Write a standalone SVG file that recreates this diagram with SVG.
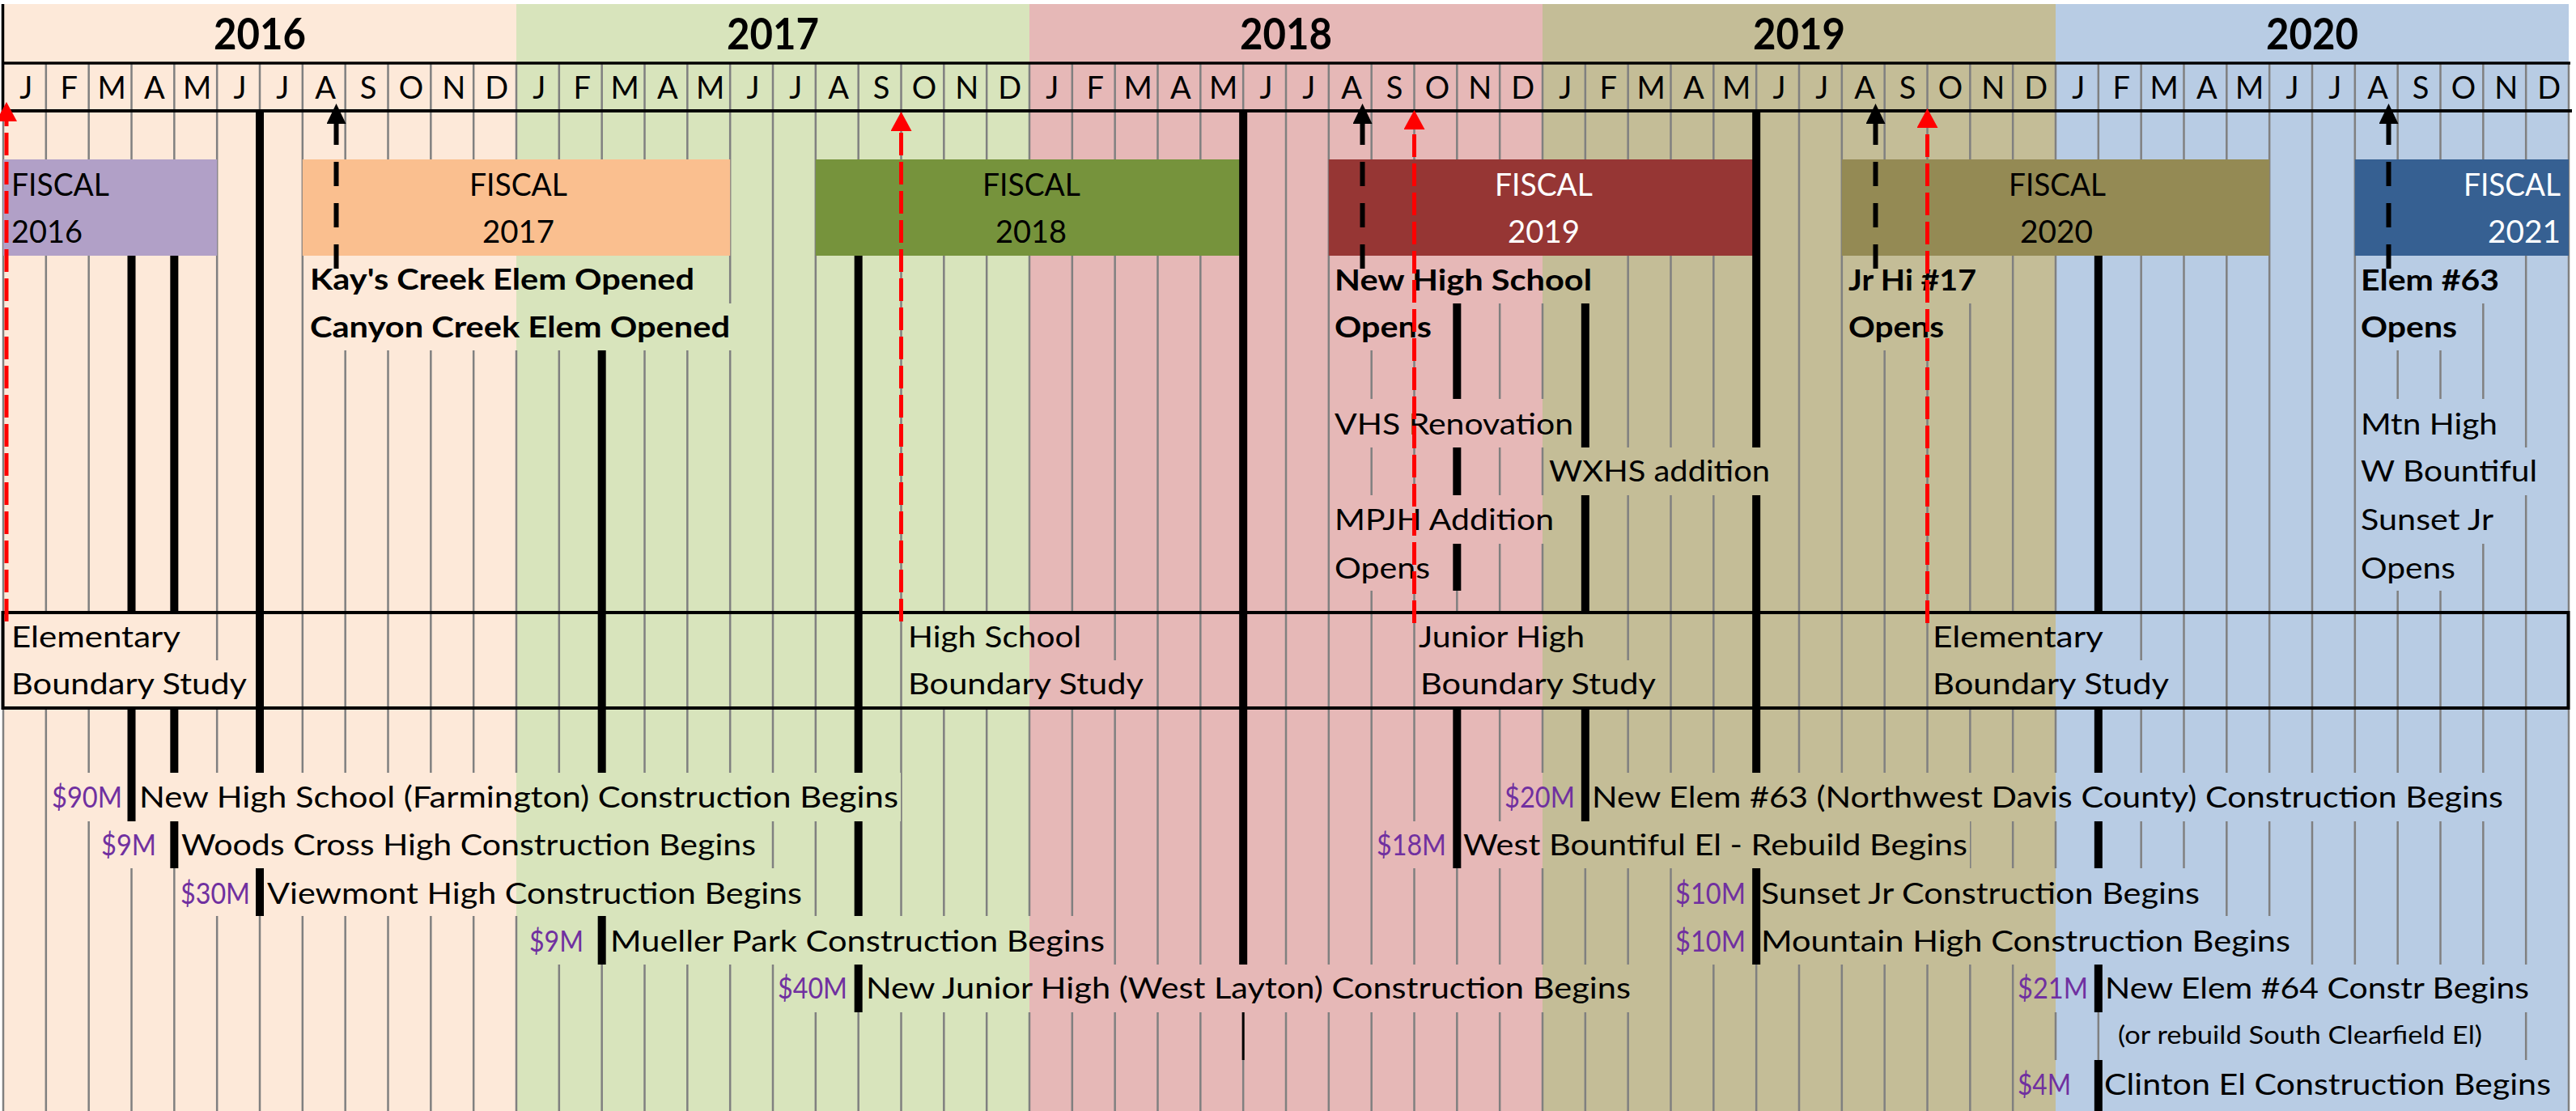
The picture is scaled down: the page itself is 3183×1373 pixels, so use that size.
<svg xmlns="http://www.w3.org/2000/svg" width="3183" height="1373" viewBox="0 0 3183 1373">
<style>
.t{font-family:Lato,'Liberation Sans',sans-serif;font-size:37px;fill:#000}
.b{font-weight:700}
.m{font-size:38px;text-anchor:middle}
.y{font-size:53px;font-weight:700}
.f{font-size:38px}
.w{fill:#fff}
.p{fill:#7030A0}
.s{font-size:31px}
.grid{stroke:#808080;stroke-width:2.5;fill:none}
.bar{stroke:#000;stroke-width:10;fill:none}
.ln{stroke:#000;fill:none}
.arB{stroke:#000;stroke-width:6;stroke-dasharray:30 21;fill:none}
.arR{stroke:#FF0000;stroke-width:5;stroke-dasharray:28 8;fill:none}
</style>
<defs>
<marker id="headB" markerUnits="userSpaceOnUse" markerWidth="25" markerHeight="24" viewBox="0 0 25 24" refX="0" refY="12" orient="auto"><path d="M0,0 L25,12 L0,24 z" fill="#000"/></marker>
<marker id="headR" markerUnits="userSpaceOnUse" markerWidth="24" markerHeight="26" viewBox="0 0 24 26" refX="0" refY="13" orient="auto"><path d="M0,0 L24,13 L0,26 z" fill="#FF0000"/></marker>
<mask id="textgaps" maskUnits="userSpaceOnUse" x="0" y="0" width="3183" height="1373">
<rect x="0" y="0" width="3183" height="1373" fill="#fff"/>
<g fill="#000">
<rect x="380" y="316" width="481" height="59"/>
<rect x="380" y="375" width="525" height="58"/>
<rect x="1646" y="316" width="324" height="59"/>
<rect x="1646" y="375" width="126" height="58"/>
<rect x="2281" y="316" width="165" height="59"/>
<rect x="2281" y="375" width="124" height="58"/>
<rect x="2914" y="316" width="177" height="59"/>
<rect x="2914" y="375" width="125" height="58"/>
<rect x="1646" y="493" width="301" height="60"/>
<rect x="1911" y="553" width="279" height="59"/>
<rect x="1646" y="612" width="277" height="60"/>
<rect x="1646" y="672" width="124" height="58"/>
<rect x="2914" y="493" width="175" height="60"/>
<rect x="2914" y="553" width="224" height="59"/>
<rect x="2914" y="612" width="170" height="60"/>
<rect x="2914" y="672" width="123" height="58"/>
<rect x="11" y="757" width="215" height="59"/>
<rect x="11" y="816" width="297" height="59"/>
<rect x="1119" y="757" width="220" height="59"/>
<rect x="1119" y="816" width="297" height="59"/>
<rect x="1750" y="757" width="211" height="59"/>
<rect x="1750" y="816" width="299" height="59"/>
<rect x="2385" y="757" width="217" height="59"/>
<rect x="2385" y="816" width="298" height="59"/>
<rect x="61" y="955" width="93" height="60"/>
<rect x="169" y="955" width="944" height="60"/>
<rect x="1856" y="955" width="93" height="60"/>
<rect x="1964" y="955" width="1132" height="60"/>
<rect x="122" y="1015" width="74" height="58"/>
<rect x="221" y="1015" width="716" height="58"/>
<rect x="1698" y="1015" width="92" height="58"/>
<rect x="1805" y="1015" width="629" height="58"/>
<rect x="220" y="1073" width="92" height="59"/>
<rect x="327" y="1073" width="667" height="59"/>
<rect x="2067" y="1073" width="93" height="59"/>
<rect x="2173" y="1073" width="548" height="59"/>
<rect x="651" y="1132" width="72" height="60"/>
<rect x="751" y="1132" width="617" height="60"/>
<rect x="2067" y="1132" width="93" height="60"/>
<rect x="2173" y="1132" width="660" height="60"/>
<rect x="958" y="1192" width="92" height="59"/>
<rect x="1067" y="1192" width="951" height="59"/>
<rect x="2490" y="1192" width="93" height="59"/>
<rect x="2598" y="1192" width="530" height="59"/>
<rect x="2614" y="1251" width="456" height="59"/>
<rect x="2490" y="1310" width="72" height="63"/>
<rect x="2597" y="1310" width="558" height="63"/>
</g>
</mask>
</defs>

<g id="year-backgrounds">
<rect x="4" y="5" width="634" height="1368" fill="#FDE9D9"/>
<rect x="638" y="5" width="634" height="1368" fill="#D8E4BC"/>
<rect x="1272" y="5" width="634" height="1368" fill="#E6B8B7"/>
<rect x="1906" y="5" width="634" height="1368" fill="#C4BD97"/>
<rect x="2540" y="5" width="634" height="1368" fill="#B8CCE4"/>
</g>

<g id="gridlines" mask="url(#textgaps)">
<path class="grid" d="M4 78V1373M56.83 78V1373M109.67 78V1373M162.5 78V1373M215.33 78V1373M268.17 78V1373M321 78V1373M373.83 78V1373M426.67 78V1373M479.5 78V1373M532.33 78V1373M585.17 78V1373M638 78V1373M690.83 78V1373M743.67 78V1373M796.5 78V1373M849.33 78V1373M902.17 78V1373M955 78V1373M1007.83 78V1373M1060.67 78V1373M1113.5 78V1373M1166.33 78V1373M1219.17 78V1373M1272 78V1373M1324.83 78V1373M1377.67 78V1373M1430.5 78V1373M1483.33 78V1373M1536.17 78V1373M1589 78V1373M1641.83 78V1373M1694.67 78V1373M1747.5 78V1373M1800.33 78V1373M1853.17 78V1373M1906 78V1373M1958.83 78V1373M2011.67 78V1373M2064.5 78V1373M2117.33 78V1373M2170.17 78V1373M2223 78V1373M2275.83 78V1373M2328.67 78V1373M2381.5 78V1373M2434.33 78V1373M2487.17 78V1373M2540 78V1373M2592.83 78V1373M2645.67 78V1373M2698.5 78V1373M2751.33 78V1373M2804.17 78V1373M2857 78V1373M2909.83 78V1373M2962.67 78V1373M3015.5 78V1373M3068.33 78V1373M3121.17 78V1373M3174 78V1373"/>
</g>

<g id="header">
<path class="ln" stroke-width="3.5" d="M4 78H3176"/>
<path class="ln" stroke-width="4" d="M2 137H3178"/>
<path class="ln" stroke-width="3.5" d="M3.5 5V139"/>
<text class="t y" x="264" y="61" textLength="114" lengthAdjust="spacingAndGlyphs">2016</text>
<text class="t y" x="898" y="61" textLength="114" lengthAdjust="spacingAndGlyphs">2017</text>
<text class="t y" x="1532" y="61" textLength="114" lengthAdjust="spacingAndGlyphs">2018</text>
<text class="t y" x="2166" y="61" textLength="114" lengthAdjust="spacingAndGlyphs">2019</text>
<text class="t y" x="2800" y="61" textLength="114" lengthAdjust="spacingAndGlyphs">2020</text>
<g class="t m">
<text x="32.4" y="122">J</text><text x="85.2" y="122">F</text><text x="138.1" y="122">M</text><text x="190.9" y="122">A</text><text x="243.7" y="122">M</text><text x="296.6" y="122">J</text><text x="349.4" y="122">J</text><text x="402.2" y="122">A</text><text x="455.1" y="122">S</text><text x="507.9" y="122">O</text><text x="560.7" y="122">N</text><text x="613.6" y="122">D</text>
<text x="666.4" y="122">J</text><text x="719.2" y="122">F</text><text x="772.1" y="122">M</text><text x="824.9" y="122">A</text><text x="877.7" y="122">M</text><text x="930.6" y="122">J</text><text x="983.4" y="122">J</text><text x="1036.2" y="122">A</text><text x="1089.1" y="122">S</text><text x="1141.9" y="122">O</text><text x="1194.7" y="122">N</text><text x="1247.6" y="122">D</text>
<text x="1300.4" y="122">J</text><text x="1353.2" y="122">F</text><text x="1406.1" y="122">M</text><text x="1458.9" y="122">A</text><text x="1511.7" y="122">M</text><text x="1564.6" y="122">J</text><text x="1617.4" y="122">J</text><text x="1670.2" y="122">A</text><text x="1723.1" y="122">S</text><text x="1775.9" y="122">O</text><text x="1828.7" y="122">N</text><text x="1881.6" y="122">D</text>
<text x="1934.4" y="122">J</text><text x="1987.2" y="122">F</text><text x="2040.1" y="122">M</text><text x="2092.9" y="122">A</text><text x="2145.7" y="122">M</text><text x="2198.6" y="122">J</text><text x="2251.4" y="122">J</text><text x="2304.2" y="122">A</text><text x="2357.1" y="122">S</text><text x="2409.9" y="122">O</text><text x="2462.7" y="122">N</text><text x="2515.6" y="122">D</text>
<text x="2568.4" y="122">J</text><text x="2621.2" y="122">F</text><text x="2674.1" y="122">M</text><text x="2726.9" y="122">A</text><text x="2779.7" y="122">M</text><text x="2832.6" y="122">J</text><text x="2885.4" y="122">J</text><text x="2938.2" y="122">A</text><text x="2991.1" y="122">S</text><text x="3043.9" y="122">O</text><text x="3096.7" y="122">N</text><text x="3149.6" y="122">D</text>
</g>
</g>

<g id="fiscal-2016">
<rect x="4" y="197" width="264.2" height="119" fill="#B1A0C7"/>
<text class="t f" x="14" y="242" textLength="121" lengthAdjust="spacingAndGlyphs">FISCAL</text>
<text class="t f" x="14" y="300" textLength="88" lengthAdjust="spacingAndGlyphs">2016</text>
</g>
<g id="fiscal-2017">
<rect x="373.8" y="197" width="528.4" height="119" fill="#FABF8F"/>
<text class="t f" x="580" y="242" textLength="121" lengthAdjust="spacingAndGlyphs">FISCAL</text>
<text class="t f" x="596" y="300" textLength="89" lengthAdjust="spacingAndGlyphs">2017</text>
</g>
<g id="fiscal-2018">
<rect x="1007.8" y="197" width="528.4" height="119" fill="#76933C"/>
<text class="t f" x="1214" y="242" textLength="121" lengthAdjust="spacingAndGlyphs">FISCAL</text>
<text class="t f" x="1230" y="300" textLength="88" lengthAdjust="spacingAndGlyphs">2018</text>
</g>
<g id="fiscal-2019">
<rect x="1641.8" y="197" width="528.4" height="119" fill="#963634"/>
<text class="t f w" x="1847" y="242" textLength="121" lengthAdjust="spacingAndGlyphs">FISCAL</text>
<text class="t f w" x="1863" y="300" textLength="89" lengthAdjust="spacingAndGlyphs">2019</text>
</g>
<g id="fiscal-2020">
<rect x="2275.8" y="197" width="528.4" height="119" fill="#948A54"/>
<text class="t f" x="2482" y="242" textLength="120" lengthAdjust="spacingAndGlyphs">FISCAL</text>
<text class="t f" x="2496" y="300" textLength="90" lengthAdjust="spacingAndGlyphs">2020</text>
</g>
<g id="fiscal-2021">
<rect x="2909.8" y="197" width="264.2" height="119" fill="#366092"/>
<text class="t f w" x="3044" y="242" textLength="120" lengthAdjust="spacingAndGlyphs">FISCAL</text>
<text class="t f w" x="3074" y="300" textLength="90" lengthAdjust="spacingAndGlyphs">2021</text>
</g>

<g id="milestone-bars">
<path class="bar" d="M162.5 316V757M162.5 875V1015"/>
<path class="bar" d="M215.33 316V757M215.33 875V955M215.33 1015V1073"/>
<path class="bar" d="M321 137V955M321 1073V1132"/>
<path class="bar" d="M743.67 433V955M743.67 1132V1192"/>
<path class="bar" d="M1060.67 316V955M1060.67 1015V1132M1060.67 1192V1251"/>
<path class="bar" d="M1536.17 137V1192"/>
<path class="ln" stroke-width="3" d="M1536.17 1251V1310"/>
<path class="bar" d="M1800.33 375V493M1800.33 553V612M1800.33 672V730M1800.33 875V1073"/>
<path class="bar" d="M1958.83 375V553M1958.83 612V757M1958.83 875V1015"/>
<path class="bar" d="M2170.17 137V553M2170.17 612V955M2170.17 1073V1192"/>
<path class="bar" d="M2592.83 316V757M2592.83 875V955M2592.83 1015V1073M2592.83 1192V1251M2592.83 1310V1373"/>
</g>

<g id="boundary-studies">
<rect x="3.5" y="757" width="3170" height="118" fill="none" stroke="#000" stroke-width="4"/>
<g id="elementary-study-2016">
<text class="t" x="14" y="800" textLength="209" lengthAdjust="spacingAndGlyphs">Elementary</text>
<text class="t" x="14" y="858" textLength="291" lengthAdjust="spacingAndGlyphs">Boundary Study</text>
</g>
<g id="high-school-study">
<text class="t" x="1122" y="800" textLength="214" lengthAdjust="spacingAndGlyphs">High School</text>
<text class="t" x="1122" y="858" textLength="291" lengthAdjust="spacingAndGlyphs">Boundary Study</text>
</g>
<g id="junior-high-study">
<text class="t" x="1753" y="800" textLength="205" lengthAdjust="spacingAndGlyphs">Junior High</text>
<text class="t" x="1755" y="858" textLength="291" lengthAdjust="spacingAndGlyphs">Boundary Study</text>
</g>
<g id="elementary-study-2019">
<text class="t" x="2388" y="800" textLength="211" lengthAdjust="spacingAndGlyphs">Elementary</text>
<text class="t" x="2388" y="858" textLength="292" lengthAdjust="spacingAndGlyphs">Boundary Study</text>
</g>
</g>

<g id="openings">
<g id="kays-canyon">
<text class="t b" x="383" y="358" textLength="475" lengthAdjust="spacingAndGlyphs">Kay's Creek Elem Opened</text>
<text class="t b" x="383" y="417" textLength="519" lengthAdjust="spacingAndGlyphs">Canyon Creek Elem Opened</text>
</g>
<g id="new-high-school-opens">
<text class="t b" x="1649" y="359" textLength="318" lengthAdjust="spacingAndGlyphs">New High School</text>
<text class="t b" x="1649" y="417" textLength="120" lengthAdjust="spacingAndGlyphs">Opens</text>
</g>
<g id="jr-hi-17-opens">
<text class="t b" x="2284" y="359" textLength="158" lengthAdjust="spacingAndGlyphs">Jr Hi #17</text>
<text class="t b" x="2284" y="417" textLength="118" lengthAdjust="spacingAndGlyphs">Opens</text>
</g>
<g id="elem-63-opens">
<text class="t b" x="2917" y="359" textLength="171" lengthAdjust="spacingAndGlyphs">Elem #63</text>
<text class="t b" x="2917" y="417" textLength="119" lengthAdjust="spacingAndGlyphs">Opens</text>
</g>
<g id="renovations">
<text class="t" x="1649" y="537" textLength="295" lengthAdjust="spacingAndGlyphs">VHS Renovation</text>
<text class="t" x="1914" y="595" textLength="273" lengthAdjust="spacingAndGlyphs">WXHS addition</text>
<text class="t" x="1649" y="655" textLength="271" lengthAdjust="spacingAndGlyphs">MPJH Addition</text>
<text class="t" x="1649" y="715" textLength="118" lengthAdjust="spacingAndGlyphs">Opens</text>
</g>
<g id="rebuilds-open">
<text class="t" x="2917" y="537" textLength="169" lengthAdjust="spacingAndGlyphs">Mtn High</text>
<text class="t" x="2917" y="595" textLength="218" lengthAdjust="spacingAndGlyphs">W Bountiful</text>
<text class="t" x="2917" y="655" textLength="164" lengthAdjust="spacingAndGlyphs">Sunset Jr</text>
<text class="t" x="2917" y="715" textLength="117" lengthAdjust="spacingAndGlyphs">Opens</text>
</g>
</g>

<g id="construction">
<g id="c-farmington"><text class="t p" x="64" y="998" textLength="87" lengthAdjust="spacingAndGlyphs">$90M</text><text class="t" x="172" y="998" textLength="938" lengthAdjust="spacingAndGlyphs">New High School (Farmington) Construction Begins</text></g>
<g id="c-woods-cross"><text class="t p" x="125" y="1057" textLength="68" lengthAdjust="spacingAndGlyphs">$9M</text><text class="t" x="224" y="1057" textLength="710" lengthAdjust="spacingAndGlyphs">Woods Cross High Construction Begins</text></g>
<g id="c-viewmont"><text class="t p" x="223" y="1117" textLength="86" lengthAdjust="spacingAndGlyphs">$30M</text><text class="t" x="330" y="1117" textLength="661" lengthAdjust="spacingAndGlyphs">Viewmont High Construction Begins</text></g>
<g id="c-mueller"><text class="t p" x="654" y="1176" textLength="67" lengthAdjust="spacingAndGlyphs">$9M</text><text class="t" x="754" y="1176" textLength="611" lengthAdjust="spacingAndGlyphs">Mueller Park Construction Begins</text></g>
<g id="c-west-layton"><text class="t p" x="961" y="1234" textLength="86" lengthAdjust="spacingAndGlyphs">$40M</text><text class="t" x="1070" y="1234" textLength="945" lengthAdjust="spacingAndGlyphs">New Junior High (West Layton) Construction Begins</text></g>
<g id="c-elem-63"><text class="t p" x="1859" y="998" textLength="87" lengthAdjust="spacingAndGlyphs">$20M</text><text class="t" x="1967" y="998" textLength="1126" lengthAdjust="spacingAndGlyphs">New Elem #63 (Northwest Davis County) Construction Begins</text></g>
<g id="c-west-bountiful"><text class="t p" x="1701" y="1057" textLength="86" lengthAdjust="spacingAndGlyphs">$18M</text><text class="t" x="1808" y="1057" textLength="623" lengthAdjust="spacingAndGlyphs">West Bountiful El - Rebuild Begins</text></g>
<g id="c-sunset"><text class="t p" x="2070" y="1117" textLength="87" lengthAdjust="spacingAndGlyphs">$10M</text><text class="t" x="2176" y="1117" textLength="542" lengthAdjust="spacingAndGlyphs">Sunset Jr Construction Begins</text></g>
<g id="c-mountain"><text class="t p" x="2070" y="1176" textLength="87" lengthAdjust="spacingAndGlyphs">$10M</text><text class="t" x="2176" y="1176" textLength="654" lengthAdjust="spacingAndGlyphs">Mountain High Construction Begins</text></g>
<g id="c-elem-64"><text class="t p" x="2493" y="1234" textLength="87" lengthAdjust="spacingAndGlyphs">$21M</text><text class="t" x="2601" y="1234" textLength="524" lengthAdjust="spacingAndGlyphs">New Elem #64 Constr Begins</text><text class="t s" x="2617" y="1290" textLength="450" lengthAdjust="spacingAndGlyphs">(or rebuild South Clearfield El)</text></g>
<g id="c-clinton"><text class="t p" x="2493" y="1353" textLength="66" lengthAdjust="spacingAndGlyphs">$4M</text><text class="t" x="2600" y="1353" textLength="552" lengthAdjust="spacingAndGlyphs">Clinton El Construction Begins</text></g>
</g>

<g id="connectors">
<path class="arB" d="M415.5 332V153" marker-end="url(#headB)"/>
<path class="arB" d="M1683.5 332V153" marker-end="url(#headB)"/>
<path class="arB" d="M2317.5 332V153" marker-end="url(#headB)"/>
<path class="arB" d="M2951.5 332V153" marker-end="url(#headB)"/>
<path class="arR" d="M8 768V150" marker-end="url(#headR)"/>
<path class="arR" d="M1113.5 768V162" marker-end="url(#headR)"/>
<path class="arR" d="M1747.5 770V160" marker-end="url(#headR)"/>
<path class="arR" d="M2381.5 770V158" marker-end="url(#headR)"/>
</g>
</svg>
